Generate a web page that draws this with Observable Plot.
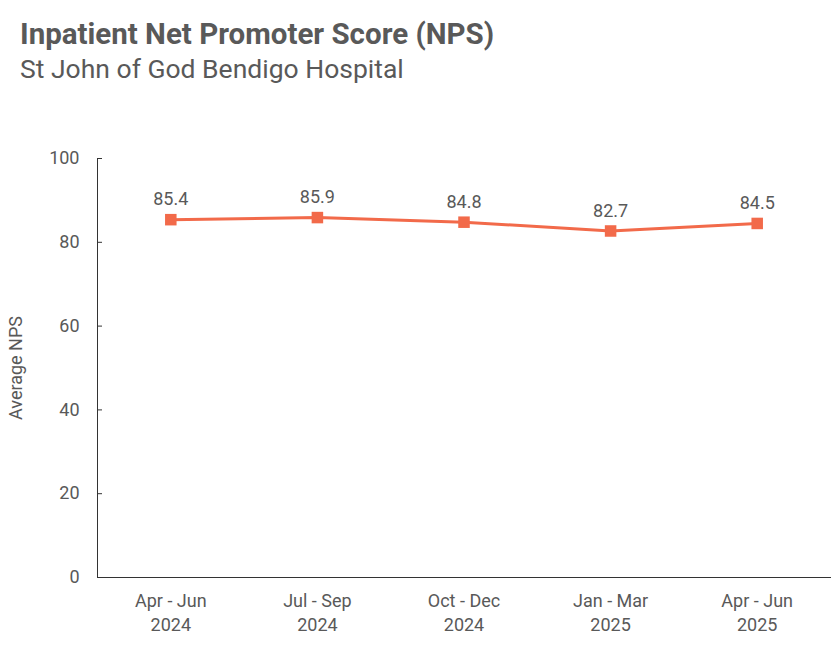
<!DOCTYPE html>
<html>
<head>
<meta charset="utf-8">
<script src="https://cdn.jsdelivr.net/npm/d3@7"></script>
<script src="https://cdn.jsdelivr.net/npm/@observablehq/plot@0.6"></script>
<style>
  html, body { margin: 0; padding: 0; background: #fff; }
  body { width: 840px; height: 654px; overflow: hidden; font-family: Roboto, "Noto Sans", sans-serif; }
  #title { position: absolute; left: 20px; top: 17px; font-size: 29.5px; font-weight: 700; color: #595959; line-height: 34px; }
  #subtitle { position: absolute; left: 20px; top: 54px; font-size: 26.5px; font-weight: 400; color: #595959; line-height: 30px; }
  #chart { position: absolute; left: 0; top: 100px; }
</style>
</head>
<body>
<div id="title">Inpatient Net Promoter Score (NPS)</div>
<div id="subtitle">St John of God Bendigo Hospital</div>
<div id="chart"></div>
<script>
const quarters = ["Apr - Jun\n2024", "Jul - Sep\n2024", "Oct - Dec\n2024", "Jan - Mar\n2025", "Apr - Jun\n2025"];
const npsValues = [85.4, 85.9, 84.8, 82.7, 84.5];
const yTicks = [0, 20, 40, 60, 80, 100];

const data = quarters.map((q, i) => ({quarter: q, nps: npsValues[i]}));
const lineColor = "#f26a4a";
const textColor = "#595959";

const chart = Plot.plot({
  width: 840,
  height: 554,
  marginLeft: 97,
  marginRight: 10,
  marginTop: 58,
  marginBottom: 77,
  style: {fontFamily: "Roboto, 'Noto Sans', sans-serif", fontSize: "18px", color: textColor, background: "#fff"},
  x: {type: "point", domain: quarters, padding: 0.5, round: false, label: null},
  y: {domain: [0, 100], label: null},
  marks: [
    Plot.axisX({tickSize: 0, tickPadding: 13, fontSize: 18, lineHeight: 1.3, label: null, fill: textColor}),
    Plot.axisY(yTicks, {tickSize: 0, tickPadding: 18, fontSize: 18, label: "Average NPS", labelAnchor: "center", labelArrow: "none", labelOffset: 88, fill: textColor}),
    Plot.axisY(yTicks, {tickSize: 5, dx: 5, text: null, label: null, stroke: "#333"}),
    Plot.frame({anchor: "left", stroke: "#333"}),
    Plot.frame({anchor: "bottom", stroke: "#333"}),
    Plot.line(data, {x: "quarter", y: "nps", stroke: lineColor, strokeWidth: 3}),
    Plot.dot(data, {x: "quarter", y: "nps", symbol: "square", r: 6.5, fill: lineColor, stroke: "none"}),
    Plot.text(data, {x: "quarter", y: "nps", text: d => d.nps.toFixed(1), dy: -20, fontSize: 18, fill: textColor})
  ]
});
document.getElementById("chart").appendChild(chart);
</script>
</body>
</html>
